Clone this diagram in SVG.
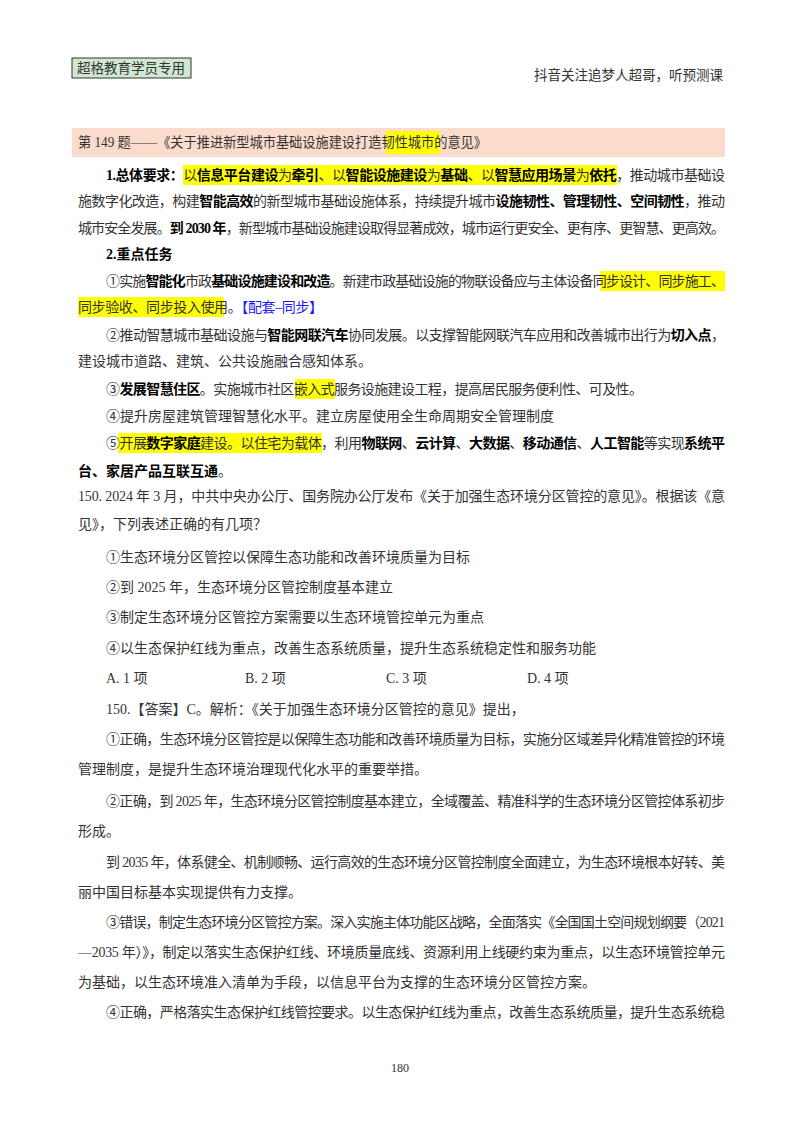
<svg xmlns="http://www.w3.org/2000/svg" width="800" height="1132" viewBox="0 0 800 1132">
<style>
text{font-family:"Liberation Serif","Noto Sans CJK SC",serif;font-size:14px;fill:#333}
.b{font-weight:bold;fill:#000}
.bl{fill:#1a1aff}
.hl{fill:#ffff00}
</style>
<rect width="800" height="1132" fill="#fff"/>
<rect x="72" y="58" width="119" height="20" fill="#cfe8cf" stroke="#333" stroke-width="1"/>
<text x="77" y="73" style="font-size:13.5px">超格教育学员专用</text>
<text x="723" y="80" text-anchor="end" style="font-size:13.5px">抖音关注追梦人超哥，听预测课</text>
<rect x="72" y="128" width="653" height="29" fill="#fbdccc"/>
<rect x="386" y="131" width="54" height="23" class="hl"/>
<rect x="183" y="165" width="434" height="20" class="hl"/>
<rect x="600" y="271" width="125" height="20" class="hl"/>
<rect x="78" y="297" width="146" height="20" class="hl"/>
<rect x="295" y="379" width="40" height="20" class="hl"/>
<rect x="118" y="433" width="204" height="20" class="hl"/>
<text x="78" y="147" textLength="409" lengthAdjust="spacingAndGlyphs">第 149 题——《关于推进新型城市基础设施建设打造韧性城市的意见》</text>
<text x="106" y="180" textLength="619" lengthAdjust="spacing"><tspan class="b">1.总体要求：</tspan>以<tspan class="b">信息平台建设</tspan>为<tspan class="b">牵引</tspan>、以<tspan class="b">智能设施建设</tspan>为<tspan class="b">基础</tspan>、以<tspan class="b">智慧应用场景</tspan>为<tspan class="b">依托</tspan>，推动城市基础设</text>
<text x="78" y="206" textLength="647" lengthAdjust="spacing">施数字化改造，构建<tspan class="b">智能高效</tspan>的新型城市基础设施体系，持续提升城市<tspan class="b">设施韧性、管理韧性、空间韧性</tspan>，推动</text>
<text x="78" y="233" textLength="647" lengthAdjust="spacing">城市安全发展。<tspan class="b">到 2030 年</tspan>，新型城市基础设施建设取得显著成效，城市运行更安全、更有序、更智慧、更高效。</text>
<text x="106" y="259" class="b">2.重点任务</text>
<text x="106" y="286" textLength="619" lengthAdjust="spacing">①实施<tspan class="b">智能化</tspan>市政<tspan class="b">基础设施建设和改造</tspan>。新建市政基础设施的物联设备应与主体设备同步设计、同步施工、</text>
<text x="78" y="312" textLength="245" lengthAdjust="spacing">同步验收、同步投入使用。<tspan class="bl">【配套–同步】</tspan></text>
<text x="106" y="340" textLength="619" lengthAdjust="spacing">②推动智慧城市基础设施与<tspan class="b">智能网联汽车</tspan>协同发展。以支撑智能网联汽车应用和改善城市出行为<tspan class="b">切入点</tspan>，</text>
<text x="78" y="366">建设城市道路、建筑、公共设施融合感知体系。</text>
<text x="106" y="394" textLength="537" lengthAdjust="spacing">③<tspan class="b">发展智慧住区</tspan>。实施城市社区嵌入式服务设施建设工程，提高居民服务便利性、可及性。</text>
<text x="106" y="421">④提升房屋建筑管理智慧化水平。建立房屋使用全生命周期安全管理制度</text>
<text x="106" y="448" textLength="619" lengthAdjust="spacing">⑤开展<tspan class="b">数字家庭</tspan>建设。以住宅为载体，利用<tspan class="b">物联网</tspan>、<tspan class="b">云计算</tspan>、<tspan class="b">大数据</tspan>、<tspan class="b">移动通信</tspan>、<tspan class="b">人工智能</tspan>等实现<tspan class="b">系统平</tspan></text>
<text x="78" y="476"><tspan class="b">台、家居产品互联互通</tspan>。</text>
<text x="78" y="501" textLength="647" lengthAdjust="spacing">150. 2024 年 3 月，中共中央办公厅、国务院办公厅发布《关于加强生态环境分区管控的意见》。根据该《意</text>
<text x="78" y="529">见》，下列表述正确的有几项？</text>
<text x="106" y="562">①生态环境分区管控以保障生态功能和改善环境质量为目标</text>
<text x="106" y="592">②到 2025 年，生态环境分区管控制度基本建立</text>
<text x="106" y="622">③制定生态环境分区管控方案需要以生态环境管控单元为重点</text>
<text x="106" y="653">④以生态保护红线为重点，改善生态系统质量，提升生态系统稳定性和服务功能</text>
<text x="106" y="683">A. 1 项</text>
<text x="245" y="683">B. 2 项</text>
<text x="386" y="683">C. 3 项</text>
<text x="527" y="683">D. 4 项</text>
<text x="106" y="714">150.【答案】C。解析：《关于加强生态环境分区管控的意见》提出，</text>
<text x="106" y="744" textLength="619" lengthAdjust="spacing">①正确，生态环境分区管控是以保障生态功能和改善环境质量为目标，实施分区域差异化精准管控的环境</text>
<text x="78" y="774">管理制度，是提升生态环境治理现代化水平的重要举措。</text>
<text x="106" y="806" textLength="619" lengthAdjust="spacing">②正确，到 2025 年，生态环境分区管控制度基本建立，全域覆盖、精准科学的生态环境分区管控体系初步</text>
<text x="78" y="836">形成。</text>
<text x="106" y="867" textLength="619" lengthAdjust="spacing">到 2035 年，体系健全、机制顺畅、运行高效的生态环境分区管控制度全面建立，为生态环境根本好转、美</text>
<text x="78" y="897">丽中国目标基本实现提供有力支撑。</text>
<text x="106" y="927" textLength="619" lengthAdjust="spacing">③错误，制定生态环境分区管控方案。深入实施主体功能区战略，全面落实《全国国土空间规划纲要（2021</text>
<text x="78" y="957" textLength="647" lengthAdjust="spacing">—2035 年）》，制定以落实生态保护红线、环境质量底线、资源利用上线硬约束为重点，以生态环境管控单元</text>
<text x="78" y="987">为基础，以生态环境准入清单为手段，以信息平台为支撑的生态环境分区管控方案。</text>
<text x="106" y="1017" textLength="619" lengthAdjust="spacing">④正确，严格落实生态保护红线管控要求。以生态保护红线为重点，改善生态系统质量，提升生态系统稳</text>
<text x="400" y="1072" text-anchor="middle" style="font-size:12px">180</text>
</svg>
